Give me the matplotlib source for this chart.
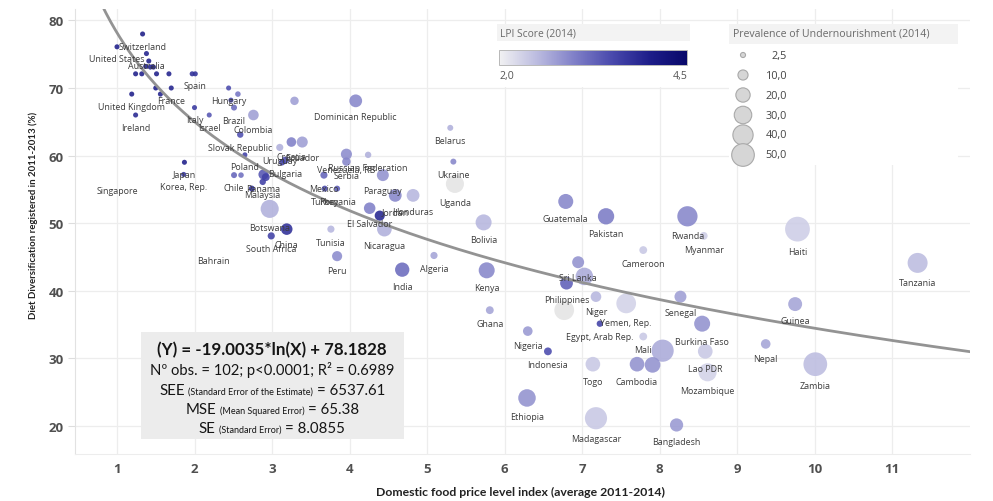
import numpy as np
import matplotlib
matplotlib.use("Agg")
import matplotlib.pyplot as plt
from matplotlib.colors import LinearSegmentedColormap
from matplotlib.patches import Rectangle

# ---------------- data ----------------
countries = ["Switzerland", "United States", "Australia", "", "", "", "", "", "", "", "",
             "", "Spain", "United Kingdom", "", "", "France", "Ireland", "Italy", "Israel",
             "Hungary", "", "", "Brazil", "Colombia", "Slovak Republic", "", "Dominican Republic",
             "Uruguay", "Croatia", "Ecuador", "Poland", "Bulgaria", "", "Japan", "Korea, Rep.",
             "Chile", "", "Panama", "", "Malaysia", "", "Botswana", "China", "South Africa",
             "Tunisia", "Peru", "Mexico", "Turkey", "Romania", "Venezuela, RB", "Serbia",
             "Russian Federation", "Paraguay", "Jordan", "Honduras", "El Salvador", "",
             "Nicaragua", "India", "Algeria", "Belarus", "Ukraine", "Uganda", "Bolivia", "Kenya",
             "Ghana", "Guatemala", "Pakistan", "Rwanda", "Myanmar", "Cameroon", "Sri Lanka", "",
             "Philippines", "Niger", "Yemen, Rep.", "", "Senegal", "Egypt, Arab Rep.",
             "Burkina Faso", "Mali", "Nigeria", "Indonesia", "", "Lao PDR", "Togo", "Cambodia", "",
             "Mozambique", "Nepal", "Ethiopia", "Madagascar", "Bangladesh", "Haiti", "Tanzania",
             "Guinea", "Zambia", "Singapore", "Bahrain"]

food_price = [1.33, 1.00, 1.38, 1.41, 1.37, 1.43, 1.47, 1.24, 1.32, 1.51, 1.67,
              1.97, 2.01, 1.19, 1.50, 1.56, 1.70, 1.24, 2.00, 2.19,
              2.44, 2.56, 2.47, 2.51, 2.76, 2.59, 3.29, 4.08,
              3.10, 3.25, 3.39, 2.65, 3.17, 3.13, 1.87, 1.86,
              2.51, 2.60, 2.89, 2.92, 2.88, 2.74, 2.97, 3.19, 2.99,
              3.76, 3.84, 3.67, 3.68, 3.84, 3.96, 3.96,
              4.24, 4.43, 4.59, 4.82, 4.26, 4.39,
              4.45, 4.68, 5.09, 5.30, 5.34, 5.36, 5.73, 5.77,
              5.81, 6.79, 7.31, 8.36, 8.57, 7.79, 6.95, 7.03,
              6.80, 7.18, 7.57, 6.77, 8.27, 7.23,
              8.55, 7.79, 6.30, 6.56, 8.04, 8.59, 7.14, 7.71, 7.91,
              8.62, 9.37, 6.29, 7.18, 8.22, 9.78, 11.33,
              9.75, 10.01, 1.00, 2.24]

diet_div = [78.0, 76.1, 75.1, 74.0, 73.2, 73.1, 73.1, 72.1, 72.1, 72.1, 72.1,
            72.1, 72.1, 69.1, 70.0, 69.1, 70.0, 66.0, 67.1, 66.0,
            70.0, 69.1, 68.2, 67.1, 66.0, 63.1, 68.1, 68.1,
            61.2, 62.0, 62.0, 60.1, 59.3, 59.0, 59.0, 57.2,
            57.1, 57.1, 57.2, 56.8, 56.1, 55.1, 52.1, 49.1, 48.1,
            49.1, 45.1, 57.1, 55.1, 55.1, 60.2, 59.1,
            60.1, 57.1, 54.1, 54.1, 52.2, 51.1,
            49.1, 43.1, 45.2, 64.1, 59.1, 55.8, 50.1, 43.0,
            37.1, 53.2, 51.0, 51.0, 48.1, 46.0, 44.2, 42.1,
            41.1, 39.1, 38.1, 37.1, 39.1, 35.1,
            35.1, 33.2, 34.0, 31.0, 31.1, 31.0, 29.1, 29.1, 29.0,
            27.9, 32.1, 24.1, 21.1, 20.1, 49.1, 44.1,
            38.0, 29.1, 56.7, 46.3]

lpi_score = [4.05, 4.0, 3.95, 4.0, 4.0, 3.95, 4.0, 4.0, 4.0, 4.0, 3.95,
             3.8, 3.8, 4.0, 4.0, 3.95, 3.95, 3.9, 3.7, 3.4,
             3.5, 3.1, 3.6, 3.2, 2.75, 3.45, 2.75, 2.95,
             2.6, 3.0, 2.75, 3.6, 3.45, 3.6, 4.0, 3.75,
             3.25, 3.15, 3.4, 3.6, 3.6, 3.8, 2.6, 3.8, 3.6,
             2.55, 2.9, 3.25, 3.5, 3.35, 2.9, 2.95,
             2.6, 2.85, 2.95, 2.55, 3.0, 3.9,
             2.6, 3.2, 2.7, 2.6, 2.95, np.nan, 2.55, 2.95,
             2.7, 2.95, 3.05, 2.95, 2.35, 2.4, 2.85, 2.65,
             3.3, 2.55, 2.3, np.nan, 2.75, 3.6,
             2.85, 2.4, 2.8, 3.5, 2.65, 2.4, 2.4, 2.85, 2.85,
             2.3, 2.7, 2.85, 2.4, 2.8, 2.35, 2.5,
             2.7, 2.5, np.nan, np.nan]

undernourishment = [2.5, 2.5, 2.5, 2.5, 2.5, 2.5, 2.5, 2.5, 2.5, 2.5, 2.5,
                    2.5, 2.5, 2.5, 2.5, 2.5, 2.5, 2.5, 2.5, 2.5,
                    2.5, 3.0, 2.5, 3.5, 11, 4, 7, 16,
                    5, 9, 12, 2.5, 5, 4, 2.5, 2.5,
                    3.5, 3, 10, 6, 4, 3.5, 32, 13, 5,
                    5, 10, 5, 3.5, 3.5, 12, 7,
                    4, 14, 16, 16, 13, 10,
                    21, 20, 5, 3.5, 3.5, 32, 25, 25,
                    6, 22, 26, 40, 6, 6, 14, 30,
                    16, 11, 38, 38, 14, 4,
                    25, 6, 9, 6, 48, 21, 21, 21, 24,
                    32, 9, 30, 48, 17, 60, 39,
                    19, 55, np.nan, np.nan]

fit_slope = -19.0035
fit_intercept = 78.1828

x_ticks = [1, 2, 3, 4, 5, 6, 7, 8, 9, 10, 11]
y_ticks = [20, 30, 40, 50, 60, 70, 80]

lpi_range = (2.0, 4.5)
pou_legend_values = [2.5, 10.0, 20.0, 30.0, 40.0, 50.0]
pou_legend_labels = ["2,5", "10,0", "20,0", "30,0", "40,0", "50,0"]

# ---------------- figure ----------------
W, H = 993, 502
fig = plt.figure(figsize=(W / 100, H / 100), dpi=100)
fig.patch.set_facecolor("white")

FONT = ["Open Sans", "DejaVu Sans"]
EQFONT = ["Lato", "DejaVu Sans"]

ax = fig.add_axes([75 / W, 1 - 455 / H, (970 - 75) / W, (455 - 10) / H])
ax.set_xlim(0.458, 12.006)
ax.set_ylim(15.8, 81.7)

cmap = LinearSegmentedColormap.from_list(
    "lpi", [(0.0, "#f2f2f3"), (0.2, "#bcbce0"), (0.4, "#8080c8"),
            (0.6, "#4a4aad"), (0.8, "#1e1e8a"), (1.0, "#08086a")])


def px_diam(v):
    return 3.2 * np.sqrt(v)


def marker_size(v):
    return (px_diam(v) * 0.72) ** 2


xs = np.array(food_price, float)
ys = np.array(diet_div, float)
lp = np.array(lpi_score, float)
pu = np.array(undernourishment, float)

colors = []
for v in lp:
    if np.isnan(v):
        colors.append("#e4e4e4")
    else:
        colors.append(cmap((v - lpi_range[0]) / (lpi_range[1] - lpi_range[0])))
colors = np.array(colors, dtype=object)

visible = ~np.isnan(pu)
order = np.argsort(-np.where(visible, pu, 0))
order = [i for i in order if visible[i]]
ax.scatter(xs[order], ys[order], s=[marker_size(pu[i]) for i in order],
           c=[colors[i] for i in order], alpha=0.88, edgecolors="none", zorder=3)

# fitted curve
xc = np.linspace(0.45, 12.1, 400)
ax.plot(xc, fit_slope * np.log(xc) + fit_intercept, color="#939393", lw=2.0,
        zorder=4, solid_capstyle="round")

# country labels, centred below each mark
for i, name in enumerate(countries):
    if not name:
        continue
    r = px_diam(pu[i]) / 2 if visible[i] else 3
    ax.annotate(name, (xs[i], ys[i]), xytext=(0, -(r + 9.5)), textcoords="offset pixels",
                ha="center", va="center", fontsize=6.4, color="#3c3c3c",
                family=FONT, zorder=6)

ax.set_xticks(x_ticks)
ax.set_yticks(y_ticks)
ax.grid(True, color="#ededed", lw=0.9, zorder=0)
ax.set_axisbelow(True)
for s in ["top", "right"]:
    ax.spines[s].set_visible(False)
ax.spines["left"].set_color("#e2e2e2")
ax.spines["bottom"].set_color("#ededed")
ax.tick_params(axis="y", length=5, color="#dddddd", pad=3, labelsize=9.5,
               labelcolor="#505050")
ax.tick_params(axis="x", length=0, pad=6, labelsize=9.5, labelcolor="#505050")
for t in ax.get_xticklabels() + ax.get_yticklabels():
    t.set_family(FONT)
    t.set_fontweight("bold")

fig.text(521 / W, 1 - 492 / H, "Domestic food price level index (average 2011-2014)",
         ha="center", va="center", fontsize=8.8, fontweight="bold", family=EQFONT,
         color="#222222")
fig.text(33 / W, 1 - 215 / H, "Diet Diversification registered in 2011-2013 (%)",
         ha="center", va="center", rotation=90, fontsize=6.9, fontweight="bold",
         family=EQFONT, color="#222222")

# ---------------- overlay (legends, equation box) ----------------
ov = fig.add_axes([0, 0, 1, 1], zorder=10)
ov.set_xlim(0, W)
ov.set_ylim(H, 0)
ov.axis("off")
ov.patch.set_alpha(0)

# LPI legend
ov.add_patch(Rectangle((497, 25), 193, 63, facecolor="white", edgecolor="none", zorder=1))
ov.add_patch(Rectangle((497, 25), 193, 17, facecolor="#f3f3f3", edgecolor="none", zorder=2))
ov.text(500, 33.5, "LPI Score (2014)", ha="left", va="center", fontsize=7.4,
        color="#6a6a6a", family=FONT, zorder=3)
grad = np.linspace(0, 1, 256)[None, :]
ov.imshow(grad, cmap=cmap, extent=(499, 687, 66, 51), aspect="auto", zorder=3)
ov.add_patch(Rectangle((499, 51), 188, 15, facecolor="none", edgecolor="#b8b8b8",
                       lw=0.7, zorder=4))
ov.text(499, 77, "2,0", ha="left", va="center", fontsize=7.6, color="#555555",
        family=FONT, zorder=3)
ov.text(688, 77, "4,5", ha="right", va="center", fontsize=7.6, color="#555555",
        family=FONT, zorder=3)

# Undernourishment legend
ov.add_patch(Rectangle((729, 25), 229, 141, facecolor="white", edgecolor="none", zorder=1))
ov.add_patch(Rectangle((729, 25), 229, 20, facecolor="#f3f3f3", edgecolor="none", zorder=2))
ov.text(733, 34, "Prevalence of Undernourishment (2014)", ha="left", va="center",
        fontsize=7.6, color="#6a6a6a", family=FONT, zorder=3)
leg_y = [56, 76, 96, 116, 136, 156]
ov.scatter([743] * len(pou_legend_values), leg_y,
           s=[marker_size(v) for v in pou_legend_values], facecolor="#d6d6d6",
           edgecolor="#a9a9a9", lw=0.8, zorder=3)
for yy, lab in zip(leg_y, pou_legend_labels):
    ov.text(787, yy, lab, ha="right", va="center", fontsize=7.8, color="#444444",
            family=FONT, zorder=4)

# equation box
ov.add_patch(Rectangle((141, 333), 263, 107, facecolor="#ececec", edgecolor="none", zorder=1))
renderer = fig.canvas.get_renderer()


def mixed_line(pieces, xcen, ybase, gap=3.5):
    texts = []
    for s, size, weight in pieces:
        t = ov.text(0, ybase, s, fontsize=size, fontweight=weight, family=EQFONT,
                    ha="left", va="baseline", color="#151515", zorder=3)
        texts.append(t)
    widths = [t.get_window_extent(renderer).width for t in texts]
    total = sum(widths) + gap * (len(texts) - 1)
    x = xcen - total / 2
    for t, w in zip(texts, widths):
        t.set_x(x)
        x += w + gap


xcen = 272
BIG, SMALL = 10.8, 6.5
mixed_line([("(Y) = -19.0035*ln(X) + 78.1828", 12.2, "bold")], xcen, 355)
mixed_line([("Nº obs. = 102; p<0.0001; R² = 0.6989", 10.6, "normal")], xcen, 375)
mixed_line([("SEE", BIG, "normal"), ("(Standard Error of the Estimate)", SMALL, "normal"),
            ("= 6537.61", BIG, "normal")], xcen, 395)
mixed_line([("MSE", BIG, "normal"), ("(Mean Squared Error)", SMALL, "normal"),
            ("= 65.38", BIG, "normal")], xcen, 414)
mixed_line([("SE", BIG, "normal"), ("(Standard Error)", SMALL, "normal"),
            ("= 8.0855", BIG, "normal")], xcen, 433)

fig.savefig("out.png", dpi=100)
